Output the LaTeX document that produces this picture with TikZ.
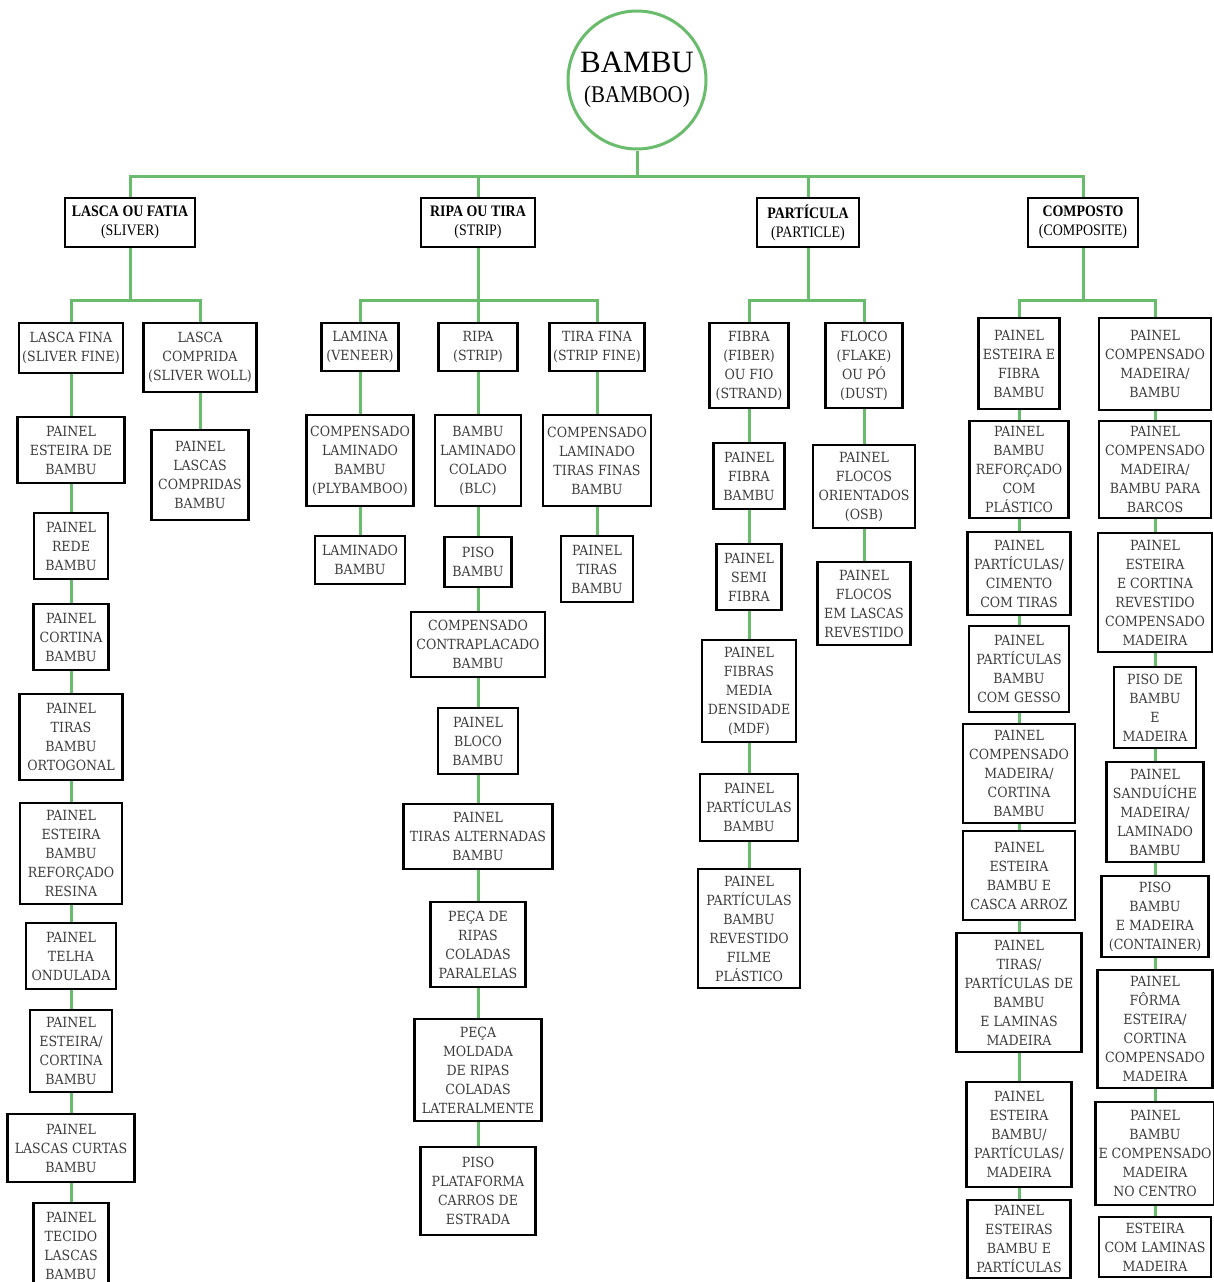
\documentclass[tikz,border=0pt]{standalone}
\usepackage{fontspec}
\newfontfamily\boxfont[FakeStretch=0.9]{DejaVu Serif}
\newfontfamily\topfont[FakeStretch=0.87]{Liberation Serif}
\newfontfamily\rootfont{Liberation Serif}
\definecolor{conngreen}{RGB}{104,188,108}
\definecolor{boxtext}{RGB}{60,60,60}
\tikzset{
  bx/.style={draw=black, line width=2.4pt, fill=white, align=center, inner sep=1pt,
    text=boxtext, font=\boxfont\fontsize{14}{19}\selectfont},
  topbx/.style={draw=black, line width=2.4pt, fill=white, align=center, inner sep=1pt,
    text=black, font=\topfont\fontsize{16}{19}\selectfont},
  conn/.style={draw=conngreen, line width=3pt},
}
\newcommand{\bx}[6]{\node[bx, minimum width=#4pt, minimum height=#5pt] (#1) at (#2,#3) {#6};}
\begin{document}
\begin{tikzpicture}[x=1pt,y=-1pt]
\useasboundingbox[fill=white] (0,0) rectangle (1213,1282);

% root
\node[circle, draw=conngreen, line width=3pt, minimum size=138pt, inner sep=0pt, align=center, font=\rootfont\fontsize{31}{30}\selectfont] (root) at (637,80)
  {BAMBU\\{\fontsize{24}{30}\selectfont\addfontfeature{FakeStretch=0.87}(BAMBOO)}};

% top level
\node[topbx, minimum width=130pt, minimum height=49pt] (lasca) at (130,222.5) {\textbf{LASCA OU FATIA}\\(SLIVER)};
\node[topbx, minimum width=114pt, minimum height=49pt] (ripa) at (478,222.5) {\textbf{RIPA OU TIRA}\\(STRIP)};
\node[topbx, minimum width=102pt, minimum height=49pt] (part) at (808,222.5) {\textbf{PARTÍCULA}\\(PARTICLE)};
\node[topbx, minimum width=110pt, minimum height=49pt] (comp) at (1083,222.5) {\textbf{COMPOSTO}\\(COMPOSITE)};

% LASCA branch
\bx{lfina}{71}{348}{104}{50}{LASCA FINA\\(SLIVER FINE)}
\bx{lcomp}{200}{357.5}{113}{69}{LASCA\\COMPRIDA\\(SLIVER WOLL)}
\bx{lcompa}{200}{475}{97}{90}{PAINEL\\LASCAS\\COMPRIDAS\\BAMBU}
\bx{la}{71}{450}{107}{66}{PAINEL\\ESTEIRA DE\\BAMBU}
\bx{lb}{71}{546}{74}{66}{PAINEL\\REDE\\BAMBU}
\bx{lc}{71}{637}{75}{66}{PAINEL\\CORTINA\\BAMBU}
\bx{ld}{71}{737}{103}{86}{PAINEL\\TIRAS\\BAMBU\\ORTOGONAL}
\bx{le}{71}{853.5}{102}{101}{PAINEL\\ESTEIRA\\BAMBU\\REFORÇADO\\RESINA}
\bx{lf}{71}{956}{90}{66}{PAINEL\\TELHA\\ONDULADA}
\bx{lg}{71}{1051}{82}{82}{PAINEL\\ESTEIRA/\\CORTINA\\BAMBU}
\bx{lh}{71}{1148}{127}{68}{PAINEL\\LASCAS CURTAS\\BAMBU}
\bx{li}{71}{1246}{75}{86}{PAINEL\\TECIDO\\LASCAS\\BAMBU}

% RIPA branch
\bx{lam}{360}{347}{77}{48}{LAMINA\\(VENEER)}
\bx{rip}{478}{347}{79}{48}{RIPA\\(STRIP)}
\bx{tfin}{597}{347}{95}{48}{TIRA FINA\\(STRIP FINE)}
\bx{lama}{360}{460.5}{107}{91}{COMPENSADO\\LAMINADO\\BAMBU\\(PLYBAMBOO)}
\bx{lamb}{360}{560}{90}{48}{LAMINADO\\BAMBU}
\bx{ra}{478}{460.5}{86}{91}{BAMBU\\LAMINADO\\COLADO\\(BLC)}
\bx{rb}{478}{562}{67}{50}{PISO\\BAMBU}
\bx{rc}{478}{644.5}{134}{65}{COMPENSADO\\CONTRAPLACADO\\BAMBU}
\bx{rd}{478}{741}{80}{66}{PAINEL\\BLOCO\\BAMBU}
\bx{re}{478}{836.5}{149}{65}{PAINEL\\TIRAS ALTERNADAS\\BAMBU}
\bx{rf}{478}{944.5}{95}{85}{PEÇA DE\\RIPAS\\COLADAS\\PARALELAS}
\bx{rg}{478}{1070}{127}{102}{PEÇA\\MOLDADA\\DE RIPAS\\COLADAS\\LATERALMENTE}
\bx{rh}{478}{1191}{115}{88}{PISO\\PLATAFORMA\\CARROS DE\\ESTRADA}
\bx{ta}{597}{460.5}{108}{91}{COMPENSADO\\LAMINADO\\TIRAS FINAS\\BAMBU}
\bx{tb}{597}{569}{72}{66}{PAINEL\\TIRAS\\BAMBU}

% PARTICULA branch
\bx{fib}{749}{365.5}{79}{85}{FIBRA\\(FIBER)\\OU FIO\\(STRAND)}
\bx{flo}{864}{365.5}{77}{85}{FLOCO\\(FLAKE)\\OU PÓ\\(DUST)}
\bx{fa}{749}{476}{71}{66}{PAINEL\\FIBRA\\BAMBU}
\bx{fb}{749}{577}{65}{66}{PAINEL\\SEMI\\FIBRA}
\bx{fc}{749}{691}{94}{102}{PAINEL\\FIBRAS\\MEDIA\\DENSIDADE\\(MDF)}
\bx{fd}{749}{807.5}{98}{67}{PAINEL\\PARTÍCULAS\\BAMBU}
\bx{fe}{749}{928.5}{102}{119}{PAINEL\\PARTÍCULAS\\BAMBU\\REVESTIDO\\FILME\\PLÁSTICO}
\bx{fla}{864}{486.5}{102}{83}{PAINEL\\FLOCOS\\ORIENTADOS\\(OSB)}
\bx{flb}{864}{603.5}{93}{83}{PAINEL\\FLOCOS\\EM LASCAS\\REVESTIDO}

% COMPOSTO branch
\bx{ca}{1019}{363.5}{81}{91}{PAINEL\\ESTEIRA E\\FIBRA\\BAMBU}
\bx{cb}{1019}{469.5}{99}{97}{PAINEL\\BAMBU\\REFORÇADO\\COM\\PLÁSTICO}
\bx{cc}{1019}{573.5}{103}{83}{PAINEL\\PARTÍCULAS/\\CIMENTO\\COM TIRAS}
\bx{cd}{1019}{669}{100}{86}{PAINEL\\PARTÍCULAS\\BAMBU\\COM GESSO}
\bx{ce}{1019}{773.5}{112}{99}{PAINEL\\COMPENSADO\\MADEIRA/\\CORTINA\\BAMBU}
\bx{cf}{1019}{875.5}{112}{89}{PAINEL\\ESTEIRA\\BAMBU E\\CASCA ARROZ}
\bx{cg}{1019}{992.5}{125}{119}{PAINEL\\TIRAS/\\PARTÍCULAS DE\\BAMBU\\E LAMINAS\\MADEIRA}
\bx{ch}{1019}{1134.5}{105}{105}{PAINEL\\ESTEIRA\\BAMBU/\\PARTÍCULAS/\\MADEIRA}
\bx{ci}{1019}{1239}{103}{78}{PAINEL\\ESTEIRAS\\BAMBU E\\PARTÍCULAS}
\bx{da}{1155}{364}{112}{92}{PAINEL\\COMPENSADO\\MADEIRA/\\BAMBU}
\bx{db}{1155}{469.5}{112}{97}{PAINEL\\COMPENSADO\\MADEIRA/\\BAMBU PARA\\BARCOS}
\bx{dc}{1155}{592.5}{114}{119}{PAINEL\\ESTEIRA\\E CORTINA\\REVESTIDO\\COMPENSADO\\MADEIRA}
\bx{dd}{1155}{707.5}{82}{81}{PISO DE\\BAMBU\\E\\MADEIRA}
\bx{de}{1155}{812}{97}{100}{PAINEL\\SANDUÍCHE\\MADEIRA/\\LAMINADO\\BAMBU}
\bx{df}{1155}{916.5}{107}{81}{PISO\\BAMBU\\E MADEIRA\\(CONTAINER)}
\bx{dg}{1155}{1029}{115}{118}{PAINEL\\FÔRMA\\ESTEIRA/\\CORTINA\\COMPENSADO\\MADEIRA}
\bx{dh}{1155}{1153.5}{119}{103}{PAINEL\\BAMBU\\E COMPENSADO\\MADEIRA\\NO CENTRO}
\bx{di}{1155}{1247}{112}{60}{ESTEIRA\\COM LAMINAS\\MADEIRA}

% connectors: top
\coordinate (h0) at (637,176);
\coordinate (h1) at (0,300);
\draw[conn] (root) -- (h0);
\draw[conn] (lasca.north) -- (lasca.north |- h0) -- (comp.north |- h0) -- (comp.north);
\draw[conn] (ripa.north) -- (ripa.north |- h0);
\draw[conn] (part.north) -- (part.north |- h0);

% level 2 bars
\draw[conn] (lasca.south) -- (lasca.south |- h1);
\draw[conn] (lfina.north) -- (lfina.north |- h1) -- (lcomp.north |- h1) -- (lcomp.north);
\draw[conn] (ripa.south) -- (ripa.south |- h1);
\draw[conn] (lam.north) -- (lam.north |- h1) -- (tfin.north |- h1) -- (tfin.north);
\draw[conn] (rip.north) -- (rip.north |- h1);
\draw[conn] (part.south) -- (part.south |- h1);
\draw[conn] (fib.north) -- (fib.north |- h1) -- (flo.north |- h1) -- (flo.north);
\draw[conn] (comp.south) -- (comp.south |- h1);
\draw[conn] (ca.north) -- (ca.north |- h1) -- (da.north |- h1) -- (da.north);

% chains
\foreach \a/\b in {lcomp/lcompa, lfina/la, la/lb, lb/lc, lc/ld, ld/le, le/lf, lf/lg, lg/lh, lh/li,
  lam/lama, lama/lamb, rip/ra, ra/rb, rb/rc, rc/rd, rd/re, re/rf, rf/rg, rg/rh, tfin/ta, ta/tb,
  fib/fa, fa/fb, fb/fc, fc/fd, fd/fe, flo/fla, fla/flb,
  ca/cb, cb/cc, cc/cd, cd/ce, ce/cf, cf/cg, cg/ch, ch/ci,
  da/db, db/dc, dc/dd, dd/de, de/df, df/dg, dg/dh, dh/di}
  \draw[conn] (\a.south) -- (\b.north);
\end{tikzpicture}
\end{document}
